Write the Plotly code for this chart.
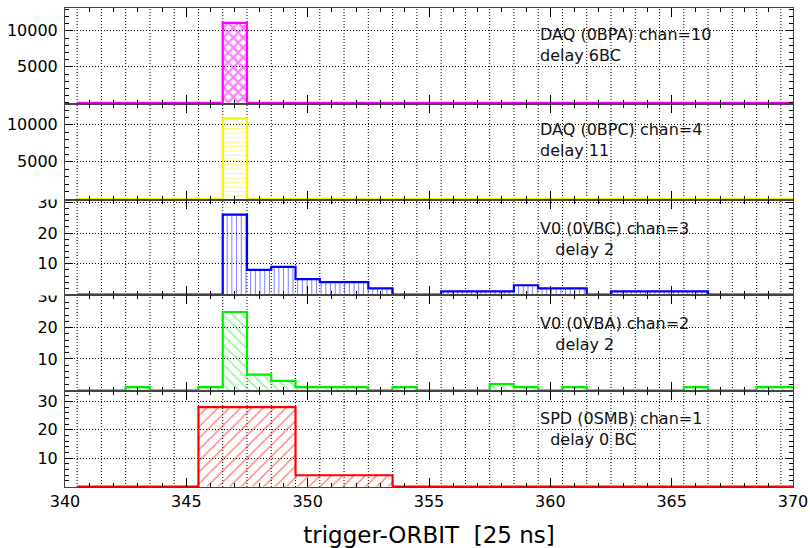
import plotly.graph_objects as go
from plotly.subplots import make_subplots

# ---------------- data ----------------
bin_centers = [341, 342, 343, 344, 345, 346, 347, 348, 349, 350,
               351, 352, 353, 354, 355, 356, 357, 358, 359, 360,
               361, 362, 363, 364, 365, 366, 367, 368, 369, 370]

daq_0bpa = [0, 0, 0, 0, 0, 0, 11100, 0, 0, 0,
            0, 0, 0, 0, 0, 0, 0, 0, 0, 0,
            0, 0, 0, 0, 0, 0, 0, 0, 0, 0]
daq_0bpc = [0, 0, 0, 0, 0, 0, 10900, 0, 0, 0,
            0, 0, 0, 0, 0, 0, 0, 0, 0, 0,
            0, 0, 0, 0, 0, 0, 0, 0, 0, 0]
v0_0vbc = [0, 0, 0, 0, 0, 0, 26, 8, 9, 5,
           4, 4, 2, 0, 0, 1, 1, 1, 3, 2,
           2, 0, 1, 1, 1, 1, 0, 0, 0, 0]
v0_0vba = [0, 0, 1, 0, 0, 1, 25, 5, 3, 1,
           1, 1, 0, 1, 0, 0, 0, 2, 1, 0,
           1, 0, 0, 0, 0, 1, 0, 0, 1, 1]
spd_0smb = [0, 0, 0, 0, 0, 28, 28, 28, 28, 4,
            4, 4, 4, 0, 0, 0, 0, 0, 0, 0,
            0, 0, 0, 0, 0, 0, 0, 0, 0, 0]

label_line1 = ["DAQ (0BPA) chan=10", "DAQ (0BPC) chan=4", "V0 (0VBC) chan=3",
               "V0 (0VBA) chan=2", "SPD (0SMB) chan=1"]
label_line2 = ["delay 6BC", "delay 11", "delay 2", "delay 2", "delay 0 BC"]
label_indent = [0, 0, 3, 3, 2]

y_tickvals = [[5000, 10000], [5000, 10000], [10, 20, 30], [10, 20, 30], [10, 20, 30]]
y_ticktext = [["5000", "10000"], ["5000", "10000"], ["10", "20", "30"], ["10", "20", "30"], ["10", "20", "30"]]
x_ticks = [340, 345, 350, 355, 360, 365, 370]

# ---------------- styling ----------------
series = [daq_0bpa, daq_0bpc, v0_0vbc, v0_0vba, spd_0smb]
colors = ["#ff00ff", "#f5f500", "#0000ff", "#00ee00", "#ff0000"]
patterns = [
    dict(shape="x", size=7, solidity=0.55),
    dict(shape="-", size=4.5, solidity=0.22),
    dict(shape="|", size=4.7, solidity=0.22),
    dict(shape="\\", size=7, solidity=0.2),
    dict(shape="/", size=8, solidity=0.18),
]
y_ranges = [[-140, 13170], [-100, 12850], [-0.3, 30.9], [-0.3, 30.3], [-0.15, 33.65]]
y_minor = [1000, 1000, 2, 2, 2]

FONT = "DejaVu Sans, Liberation Sans, Arial, sans-serif"
W, H = 810, 548
ML, MR, MT, MB = 65, 17, 8, 61
plot_h = H - MT - MB
plot_w = W - ML - MR

fig = make_subplots(rows=5, cols=1, shared_xaxes=True, vertical_spacing=0)

for i, vals in enumerate(series):
    xs = [c - 0.5 for c in bin_centers] + [bin_centers[-1] + 0.5]
    ys = list(vals) + [vals[-1]]
    pat = dict(patterns[i])
    pat.update(fgcolor=colors[i], bgcolor="rgba(0,0,0,0)", fillmode="overlay")
    fig.add_trace(
        go.Scatter(
            x=xs, y=ys, mode="lines",
            line=dict(color=colors[i], width=2.2, shape="hv"),
            fill="tozeroy", fillcolor="rgba(0,0,0,0)",
            fillpattern=pat,
            showlegend=False, hoverinfo="skip",
        ),
        row=i + 1, col=1,
    )

for r in range(1, 6):
    fig.update_xaxes(
        range=[340, 370], tickvals=x_ticks,
        ticks="inside", ticklen=9, tickwidth=1, tickcolor="black",
        minor=dict(dtick=1, tick0=340, ticklen=4, ticks="inside", tickcolor="black", showgrid=False),
        showline=True, linecolor="#444444", linewidth=1, mirror="ticks",
        showgrid=False, zeroline=False,
        tickfont=dict(family=FONT, size=16, color="black"),
        row=r, col=1,
    )
    fig.update_yaxes(
        range=y_ranges[r - 1], tickvals=y_tickvals[r - 1], ticktext=y_ticktext[r - 1],
        ticks="inside", ticklen=8, tickwidth=1, tickcolor="black",
        minor=dict(dtick=y_minor[r - 1], tick0=0, ticklen=4, ticks="inside", tickcolor="black", showgrid=False),
        showline=True, linecolor="#444444", linewidth=1, mirror="ticks",
        showgrid=True, gridcolor="black", gridwidth=1, griddash="1px,2px",
        zeroline=False, ticklabelstandoff=3,
        tickfont=dict(family=FONT, size=16, color="black"),
        row=r, col=1,
    )

fig.update_xaxes(
    title=dict(text="trigger-ORBIT\u00a0\u00a0[25 ns]", font=dict(family=FONT, size=23, color="black"),
               standoff=16),
    row=5, col=1,
)

# vertical dotted grid lines (ROOT grid sits between integer ticks)
shapes = []
for k in range(30):
    gx = 340.5 + k
    shapes.append(dict(type="line", xref="x", yref="paper", x0=gx, x1=gx, y0=0, y1=1,
                       line=dict(color="black", width=1, dash="1px,2px"), layer="below"))

def py_to_paper(py):
    return (H - MB - py) / plot_h

# mimic the upper pads hiding the top half of the "30" labels
for top in (0.6, 0.4):
    shapes.append(dict(type="rect", xref="paper", yref="paper",
                       x0=-ML / plot_w, x1=-3 / plot_w, y0=top, y1=top + 11 / plot_h,
                       fillcolor="white", line=dict(width=0), layer="above"))
fig.update_layout(shapes=shapes)

# text labels (two lines per panel)
label_center_py = [44.7, 140, 239.2, 334.2, 428.8]
label_x = 359.5
annotations = []
for i in range(5):
    txt = label_line1[i] + "<br>" + "\u00a0" * label_indent[i] + label_line2[i]
    annotations.append(dict(text=txt, x=label_x, xref="x", y=py_to_paper(label_center_py[i]),
                            yref="paper", xanchor="left", yanchor="middle", align="left",
                            showarrow=False,
                            font=dict(family=FONT, size=16, color="#111111")))
fig.update_layout(annotations=annotations)

fig.update_layout(
    width=W, height=H,
    margin=dict(l=ML, r=MR, t=MT, b=MB, autoexpand=False),
    paper_bgcolor="white", plot_bgcolor="rgba(0,0,0,0)",
    showlegend=False,
    font=dict(family=FONT, color="black"),
)

fig.write_html("out.html", config={"displayModeBar": False},
               post_script="document.body.style.margin='0';document.body.style.overflow='hidden';")
